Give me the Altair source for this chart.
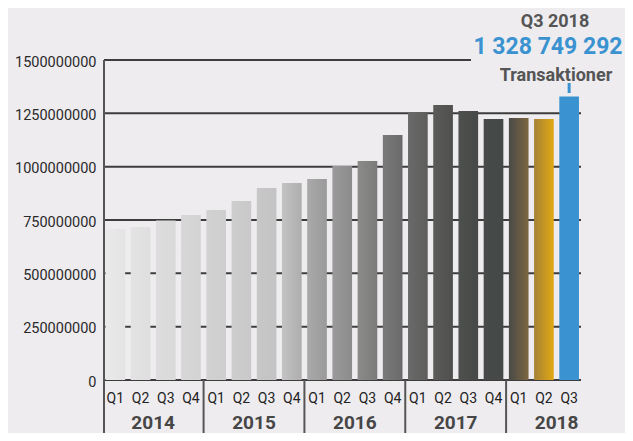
import altair as alt
import pandas as pd

# ---- data ----
years = [2014] * 4 + [2015] * 4 + [2016] * 4 + [2017] * 4 + [2018] * 3
quarters = ["Q1", "Q2", "Q3", "Q4"] * 4 + ["Q1", "Q2", "Q3"]
values = [
    708000000, 717000000, 748000000, 773000000,
    797000000, 839000000, 900000000, 923000000,
    942000000, 1003000000, 1027000000, 1148000000,
    1256000000, 1289000000, 1261000000, 1223000000,
    1228000000, 1223000000, 1328749292,
]
grid_values = [0, 250000000, 500000000, 750000000, 1000000000, 1250000000, 1500000000]
unit_label = "Transaktioner"

# ---- styles (per-bar gradient: left colour, right colour) ----
bar_colors = [
    ("#e9eae9", "#e3e3e3"), ("#e3e3e3", "#dedede"), ("#dddddd", "#d9d9d9"), ("#d7d7d7", "#d3d3d3"),
    ("#d2d2d2", "#cecece"), ("#cdcdcd", "#c9c9c9"), ("#c7c7c7", "#c3c3c3"), ("#c3c3c3", "#afaeae"),
    ("#aaa9a9", "#9b9a9a"), ("#9a9a9a", "#8c8c8c"), ("#8b8b89", "#7b7b7a"), ("#7a7a7a", "#6a6a6a"),
    ("#6a6a6a", "#5d5d5b"), ("#5b5b59", "#4f504e"), ("#4e504e", "#474948"), ("#474a49", "#444847"),
    ("#4a4a48", "#7c6640"), ("#a58137", "#e2a912"), ("#3a93d0", "#3a93d0"),
]
BG = "#EEECEF"
FONT = "Roboto"
BLUE = "#3a93d0"

df = pd.DataFrame({"idx": list(range(len(values))), "quarter": quarters,
                   "year": years, "value": values})

year_rows = []
for y in sorted(set(years)):
    first = min(i for i, yy in enumerate(years) if yy == y)
    year_rows.append({"year": str(y), "center": first + 1.5, "boundary": first - 0.5})
year_df = pd.DataFrame(year_rows)
grid_df = pd.DataFrame({"g": grid_values})

W, H = 479, 320
xs = alt.Scale(domain=[-0.45, 18.55], nice=False, zero=False)
ys = alt.Scale(domain=[0, 1500000000], nice=False)

yaxis = alt.Axis(values=grid_values, format="d", grid=False, domain=False, ticks=False,
                 labelPadding=8, labelFont=FONT, labelFontSize=14.5, labelColor="#2a2a2a",
                 labelOffset=2, title=None)

top = max(grid_values)
grid_long = alt.Chart(grid_df).transform_filter(alt.datum.g < top).mark_rule(
    color="#3d3d3d", strokeWidth=2).encode(
    x=alt.value(0), x2=alt.value(477), y=alt.Y("g:Q", scale=ys, axis=yaxis))
grid_short = alt.Chart(grid_df).transform_filter(alt.datum.g >= top).mark_rule(
    color="#3d3d3d", strokeWidth=2).encode(
    x=alt.value(0), x2=alt.value(367), y=alt.Y("g:Q", scale=ys, axis=yaxis))

bar_layers = []
for i, (c1, c2) in enumerate(bar_colors):
    grad = alt.Gradient(gradient="linear", x1=0, x2=1, y1=0, y2=0,
                        stops=[alt.GradientStop(color=c1, offset=0),
                               alt.GradientStop(color=c2, offset=1)])
    bar_layers.append(
        alt.Chart(df).transform_filter(alt.datum.idx == i)
        .transform_calculate(x0="datum.idx - 0.39", x1="datum.idx + 0.39")
        .mark_bar(color=grad)
        .encode(x=alt.X("x0:Q", scale=xs, axis=None), x2="x1:Q",
                y=alt.Y("value:Q", scale=ys, axis=yaxis), y2=alt.datum(0))
    )

left_line = alt.Chart(grid_df).transform_filter(alt.datum.g == 0).mark_rule(
    color="#555555", strokeWidth=2).encode(x=alt.value(0), y=alt.value(0), y2=alt.value(373))

separators = alt.Chart(year_df).transform_filter(alt.datum.boundary > 0).mark_rule(
    color="#555555", strokeWidth=2).encode(
    x=alt.X("boundary:Q", scale=xs, axis=None), y=alt.value(320), y2=alt.value(373))

q_labels = alt.Chart(df).mark_text(font=FONT, fontSize=14, color="#222222",
                                    align="center", baseline="alphabetic").encode(
    x=alt.X("idx:Q", scale=xs, axis=None), y=alt.value(343), text="quarter:N")

y_labels = alt.Chart(year_df).mark_text(font=FONT, fontSize=19, fontWeight="bold",
                                         color="#464646", align="center",
                                         baseline="alphabetic").encode(
    x=alt.X("center:Q", scale=xs, axis=None), y=alt.value(368.5), text="year:N")

last = df.iloc[[-1]].copy()
last["period"] = last["quarter"] + " " + last["year"].astype(str)
last["num"] = last["value"].map(lambda v: f"{int(v):,}".replace(",", " "))
last["unit"] = unit_label

ann_period = alt.Chart(last).mark_text(font=FONT, fontSize=18, fontWeight="bold",
                                        color="#555555", align="center",
                                        baseline="alphabetic").encode(
    x=alt.value(451), y=alt.value(-33), text="period:N")
ann_num = alt.Chart(last).mark_text(font=FONT, fontSize=23, fontWeight="bold",
                                     color=BLUE, align="center",
                                     baseline="alphabetic").encode(
    x=alt.value(444), y=alt.value(-6), text="num:N")
ann_unit = alt.Chart(last).mark_text(font=FONT, fontSize=18, fontWeight="bold",
                                      color="#555555", align="center",
                                      baseline="alphabetic").encode(
    x=alt.value(452), y=alt.value(21), text="unit:N")
ann_tick = alt.Chart(last).mark_rule(color=BLUE, strokeWidth=3).encode(
    x=alt.X("idx:Q", scale=xs, axis=None), y=alt.value(23), y2=alt.value(33))

chart = alt.layer(
    grid_long, grid_short, *bar_layers, left_line, separators, q_labels, y_labels,
    ann_period, ann_num, ann_unit, ann_tick
).properties(
    width=W, height=H,
    autosize=alt.AutoSizeParams(type="none"),
    padding={"left": 96, "top": 52, "right": 42, "bottom": 53},
    background=BG,
).configure_view(stroke=None)

chart.save("out.html", embed_options={"renderer": "svg", "actions": False})
